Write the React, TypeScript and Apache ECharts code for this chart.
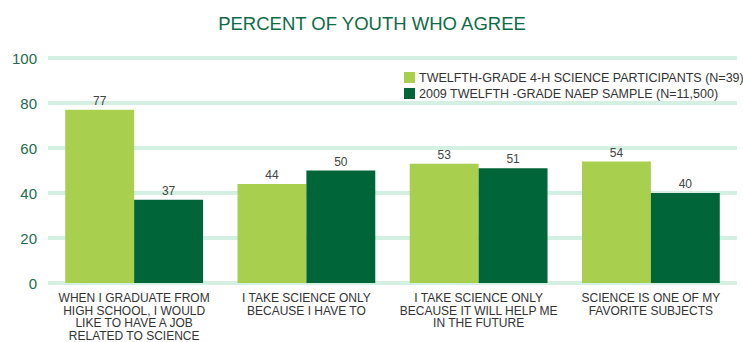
import React, { useEffect, useRef } from "react";
import * as echarts from "echarts";

const categories = [
  "WHEN I GRADUATE FROM\nHIGH SCHOOL, I WOULD\nLIKE TO HAVE A JOB\nRELATED TO SCIENCE",
  "I TAKE SCIENCE ONLY\nBECAUSE I HAVE TO",
  "I TAKE SCIENCE ONLY\nBECAUSE IT WILL HELP ME\nIN THE FUTURE",
  "SCIENCE IS ONE OF MY\nFAVORITE SUBJECTS",
];
const series4H = [77, 44, 53, 54];
const seriesNAEP = [37, 50, 51, 40];
const seriesNames = [
  "TWELFTH-GRADE 4-H SCIENCE PARTICIPANTS (N=39)",
  "2009 TWELFTH -GRADE NAEP SAMPLE (N=11,500)",
];
const titleText = "PERCENT OF YOUTH WHO AGREE";

const FONT = '"Liberation Sans", Arial, sans-serif';

export default function App() {
  const ref = useRef<HTMLDivElement>(null);
  useEffect(() => {
    document.body.style.margin = "0";
    if (!ref.current) return;
    const chart = echarts.init(ref.current, null, { renderer: "svg" });
    chart.setOption({
      animation: false,
      textStyle: { fontFamily: FONT },
      title: {
        text: titleText,
        left: 367,
        textAlign: "center",
        top: 9,
        textStyle: { fontFamily: FONT, fontSize: 18.5, fontWeight: "normal", color: "#0e6b47" },
      },
      legend: {
        orient: "vertical",
        left: 399,
        top: 66,
        itemWidth: 11,
        itemHeight: 11,
        itemGap: 3,
        icon: "rect",
        textStyle: { fontFamily: FONT, fontSize: 12.5, color: "#333", padding: [0, 0, 0, -1] },
        data: seriesNames,
      },
      grid: { left: 48, right: 6, top: 58, bottom: 54, containLabel: false },
      xAxis: {
        type: "category",
        data: categories,
        axisLine: { show: false },
        axisTick: { show: false },
        axisLabel: {
          interval: 0,
          margin: 9,
          fontFamily: FONT,
          fontSize: 12,
          lineHeight: 12.5,
          color: "#333",
        },
      },
      yAxis: {
        type: "value",
        min: 0,
        max: 100,
        interval: 20,
        axisLine: { show: false },
        axisTick: { show: false },
        axisLabel: { margin: 11, fontFamily: FONT, fontSize: 15, color: "#1e6b4f" },
        splitLine: { lineStyle: { color: "#d4f0e3", width: 4 } },
      },
      series: [
        {
          name: seriesNames[0],
          type: "bar",
          data: series4H,
          barGap: "0%",
          barCategoryGap: "20%",
          itemStyle: { color: "#a8cf4e" },
          label: { show: true, position: "top", distance: 3, fontFamily: FONT, fontSize: 12, color: "#444" },
        },
        {
          name: seriesNames[1],
          type: "bar",
          data: seriesNAEP,
          barGap: "0%",
          barCategoryGap: "20%",
          itemStyle: { color: "#006639" },
          label: { show: true, position: "top", distance: 3, fontFamily: FONT, fontSize: 12, color: "#444" },
        },
      ],
    });
    return () => chart.dispose();
  }, []);
  return <div ref={ref} style={{ width: 743, height: 342 }} />;
}
